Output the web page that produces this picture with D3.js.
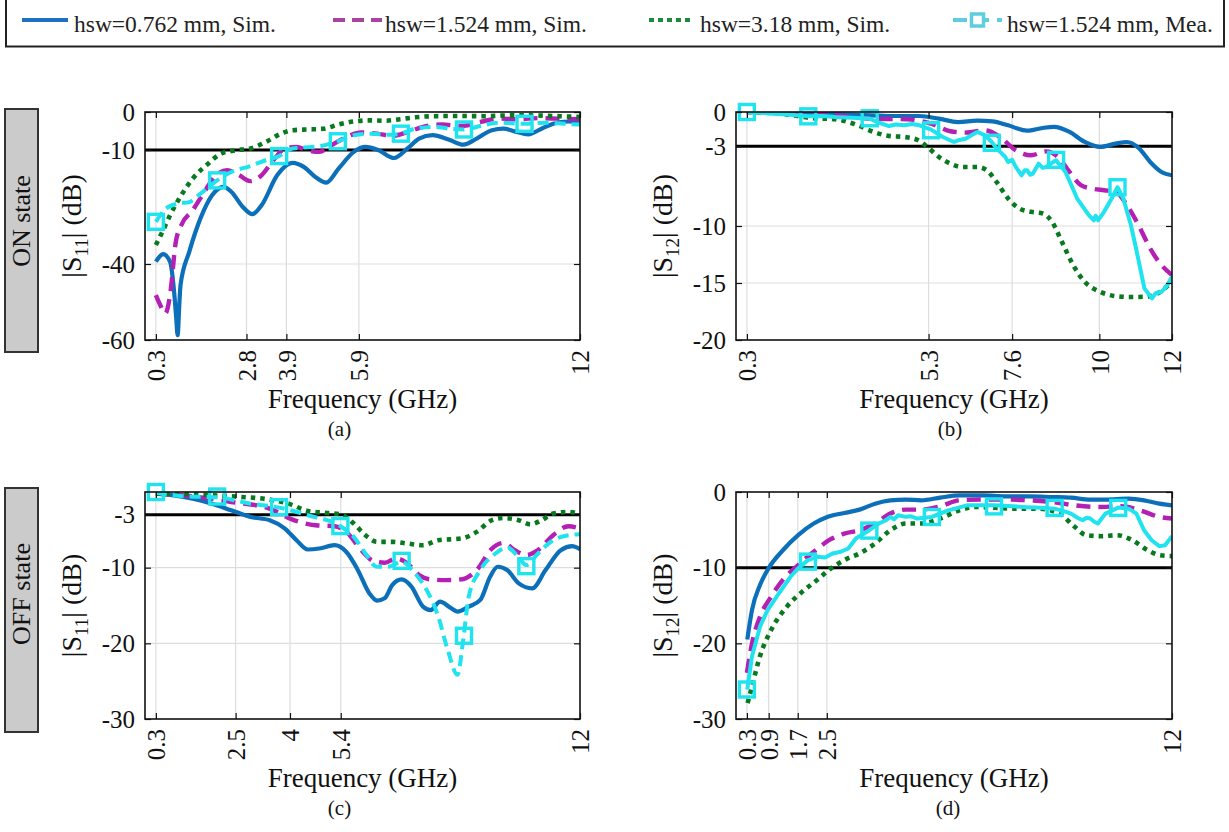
<!DOCTYPE html>
<html>
<head>
<meta charset="utf-8">
<script src="https://cdn.jsdelivr.net/npm/d3@7/dist/d3.min.js"></script>
<style>
  body { margin: 0; background: #ffffff; }
  svg, svg text { font-family: "Liberation Serif", "DejaVu Serif", serif; }
</style>
</head>
<body>
<div id="s_param_figure"></div>
<script>

// ! S-parameter data, [frequency GHz, magnitude dB]

// (a) ON state |S11|
var on_s11_sim_0762 = [[0.3,-39.4],[0.5,-37.4],[0.69,-39.4],[0.8,-47],[0.86,-54],[0.9,-58.7],[0.95,-50],[0.98,-45.5],[1.22,-36.8],[1.53,-28],[1.85,-21.9],[2.17,-19.7],[2.38,-21],[2.7,-25],[2.96,-26.9],[3.22,-24.5],[3.65,-16.6],[4.07,-13.4],[4.39,-14.5],[4.7,-17.1],[5.0,-18.6],[5.34,-14.9],[5.76,-10.5],[6.08,-9.2],[6.45,-10.1],[6.87,-12.1],[7.24,-9.6],[7.56,-7.0],[7.93,-6.1],[8.41,-7.4],[8.78,-8.6],[9.15,-7.0],[9.57,-4.8],[9.89,-4.4],[10.2,-5.1],[10.57,-5.9],[10.94,-4.4],[11.26,-3.1],[11.68,-2.5],[12,-2.6]];
var on_s11_sim_1524 = [[0.3,-48.2],[0.42,-50.8],[0.56,-53],[0.69,-48.2],[0.85,-34.2],[1.0,-29.8],[1.32,-25.8],[1.64,-21],[1.96,-16.6],[2.27,-15.3],[2.59,-16.6],[2.91,-18.2],[3.22,-16.6],[3.54,-12.7],[3.86,-9.6],[4.18,-9.2],[4.49,-10.1],[4.81,-10.5],[5.13,-8.8],[5.55,-6.6],[5.97,-5.4],[6.4,-5.7],[6.82,-6.3],[7.24,-5.3],[7.67,-3.9],[8.19,-3.3],[8.72,-3.7],[9.25,-2.6],[9.78,-1.75],[10.31,-1.9],[10.84,-1.6],[11.37,-1.75],[12,-1.9]];
var on_s11_sim_318 = [[0.3,-35],[0.48,-31.5],[0.69,-27.2],[1.0,-21.9],[1.32,-17.5],[1.74,-13.6],[2.11,-10.9],[2.48,-10.1],[2.91,-9.6],[3.33,-7.9],[3.75,-5.7],[4.07,-4.8],[4.49,-4.6],[4.92,-4.4],[5.34,-3.3],[5.76,-2.5],[6.19,-2.2],[6.61,-2.3],[7.03,-1.9],[7.45,-1.4],[7.98,-1.1],[8.72,-1.05],[9.36,-1.1],[9.99,-0.9],[10.63,-0.9],[11.26,-1.05],[12,-1.3]];
var on_s11_mea_1524 = [[0.3,-28.9],[0.58,-25.4],[0.9,-24.1],[1.22,-23.7],[1.53,-21.5],[1.99,-18],[2.38,-15.8],[2.91,-14.2],[3.33,-12.7],[3.7,-11.6],[4.07,-9.6],[4.6,-9.2],[5.02,-8.6],[5.32,-7.7],[5.76,-6.1],[6.29,-5.7],[6.71,-6.0],[7.06,-5.7],[7.45,-4.4],[7.98,-3.9],[8.41,-4.4],[8.8,-4.6],[9.25,-3.7],[9.78,-2.8],[10.47,-3.1],[11.05,-2.8],[11.58,-3.1],[12,-3.3]];
var on_s11_mea_marks = [[0.3,-28.9],[1.99,-18],[3.7,-11.6],[5.32,-7.7],[7.06,-5.7],[8.8,-4.6],[10.47,-3.1]];

// (b) ON state |S12|
var on_s12_sim_0762 = [[0.3,0],[1.56,-0.06],[3.15,-0.23],[4.2,-0.35],[5.05,-0.35],[5.58,-0.58],[6.11,-0.88],[6.64,-0.76],[7.06,-0.82],[7.49,-1.17],[8.01,-1.64],[8.44,-1.4],[8.75,-1.31],[9.18,-1.75],[9.6,-2.63],[10.02,-3.07],[10.45,-2.77],[10.76,-2.63],[11.08,-3.15],[11.4,-4.38],[11.71,-5.26],[12,-5.55]];
var on_s12_sim_1524 = [[0.3,0],[1.56,-0.06],[2.62,-0.23],[3.68,-0.58],[4.74,-0.64],[5.37,-1.02],[5.9,-1.69],[6.32,-1.81],[6.85,-1.61],[7.27,-2.19],[7.7,-3.36],[8.12,-3.8],[8.54,-3.45],[8.86,-3.94],[9.18,-5.26],[9.49,-6.42],[9.81,-6.72],[10.13,-6.86],[10.45,-7.0],[10.76,-8.18],[11.08,-9.93],[11.4,-11.97],[11.71,-13.43],[12,-14.3]];
var on_s12_sim_318 = [[0.3,0],[1.25,-0.15],[2.09,-0.53],[2.73,-0.64],[3.36,-1.17],[3.79,-1.75],[4.21,-2.1],[4.63,-2.19],[4.95,-2.39],[5.27,-3.07],[5.58,-3.94],[5.9,-4.53],[6.22,-4.82],[6.64,-4.82],[6.9,-5.11],[7.17,-6.13],[7.49,-7.59],[7.8,-8.47],[8.12,-8.76],[8.44,-8.9],[8.7,-9.64],[8.97,-11.39],[9.28,-13.43],[9.6,-14.9],[10.02,-15.77],[10.45,-16.15],[10.87,-16.23],[11.29,-16.2],[11.61,-15.9],[12,-14.9]];
var on_s12_mea_1524 = [[0.3,0],[1.04,-0.15],[1.5,-0.25],[2.0,-0.38],[2.4,-0.35],[2.73,-0.44],[3.2,-0.5],[3.68,-0.58],[3.9,-0.9],[4.21,-1.23],[4.4,-1.1],[4.63,-1.17],[4.85,-1.05],[5.05,-1.17],[5.37,-1.55],[5.69,-2.19],[6.0,-2.63],[6.15,-2.45],[6.32,-2.34],[6.5,-2.0],[6.64,-1.75],[6.85,-2.04],[7.04,-2.63],[7.15,-3.1],[7.27,-3.5],[7.4,-3.9],[7.49,-4.38],[7.6,-4.2],[7.7,-4.82],[7.86,-5.55],[7.95,-5.1],[8.01,-5.11],[8.1,-5.5],[8.17,-5.4],[8.33,-4.53],[8.44,-4.9],[8.54,-4.82],[8.81,-4.23],[9.07,-5.26],[9.39,-7.59],[9.71,-9.05],[9.85,-9.5],[9.9,-9.1],[9.97,-9.49],[10.13,-8.76],[10.34,-7.59],[10.5,-6.6],[10.66,-7.59],[10.87,-9.93],[11.03,-12.26],[11.24,-15.47],[11.45,-16.35],[11.55,-15.9],[11.71,-15.77],[11.85,-15.3],[12,-14.45]];
var on_s12_mea_marks = [[0.3,0],[1.99,-0.38],[3.68,-0.55],[5.37,-1.6],[7.04,-2.7],[8.81,-4.2],[10.5,-6.6]];

// (c) OFF state |S11|
var off_s11_sim_0762 = [[0.3,-0.22],[0.79,-0.44],[1.32,-0.88],[1.85,-1.54],[2.38,-2.42],[2.91,-3.29],[3.44,-3.73],[3.86,-4.83],[4.18,-6.37],[4.49,-7.6],[4.81,-7.47],[5.23,-7.03],[5.55,-7.9],[5.87,-10.3],[6.19,-13.4],[6.4,-14.36],[6.61,-14.05],[6.82,-12.3],[7.08,-11.55],[7.35,-12.5],[7.67,-15.15],[7.88,-15.6],[8.14,-14.5],[8.41,-15.24],[8.62,-15.8],[8.93,-15.15],[9.25,-14.27],[9.52,-11.2],[9.73,-9.88],[9.99,-10.32],[10.31,-12.08],[10.68,-12.74],[11.05,-10.32],[11.47,-7.69],[11.79,-7.16],[12,-7.55]];
var off_s11_sim_1524 = [[0.3,-0.22],[1.32,-0.57],[2.38,-1.32],[3.44,-2.2],[4.07,-3.65],[4.7,-4.39],[5.23,-4.52],[5.55,-5.27],[5.97,-7.69],[6.29,-9.09],[6.61,-9.35],[6.93,-8.78],[7.24,-9.44],[7.56,-10.98],[7.88,-11.55],[8.3,-11.64],[8.72,-11.55],[9.15,-10.32],[9.57,-7.47],[9.89,-6.72],[10.2,-7.69],[10.52,-8.34],[10.84,-7.69],[11.26,-5.71],[11.68,-4.52],[12,-4.83]];
var off_s11_sim_318 = [[0.3,-0.22],[1.32,-0.31],[2.38,-0.57],[3.44,-1.01],[3.96,-1.54],[4.49,-2.5],[5.02,-2.77],[5.39,-2.94],[5.76,-4.17],[6.08,-5.71],[6.4,-6.59],[6.82,-6.59],[7.24,-6.81],[7.67,-7.03],[8.09,-6.37],[8.72,-6.15],[9.15,-5.27],[9.57,-3.73],[9.89,-3.43],[10.31,-3.73],[10.63,-4.26],[10.94,-3.73],[11.26,-2.85],[11.68,-2.64],[12,-2.94]];
var off_s11_mea_1524 = [[0.3,-0.1],[1.11,-0.57],[1.99,-0.7],[2.91,-1.54],[3.7,-2.06],[4.49,-3.07],[5.39,-4.52],[5.76,-5.93],[6.08,-8.12],[6.4,-9.88],[6.71,-9.88],[7.08,-9.22],[7.45,-10.76],[7.77,-12.96],[8.09,-16.47],[8.35,-20.86],[8.62,-24.15],[8.78,-19.5],[8.93,-13.84],[9.25,-10.32],[9.67,-8.12],[9.99,-7.33],[10.26,-8.34],[10.52,-9.66],[10.84,-8.12],[11.26,-6.37],[11.68,-5.71],[12,-5.58]];
var off_s11_mea_marks = [[0.3,0],[1.99,-0.6],[3.7,-2.0],[5.39,-4.5],[7.08,-9.1],[8.8,-19.0],[10.52,-9.8]];

// (d) OFF state |S12|
var off_s12_sim_0762 = [[0.31,-19.5],[0.44,-15.6],[0.66,-12.3],[0.92,-9.9],[1.29,-7.7],[1.71,-5.7],[2.14,-4.17],[2.51,-3.3],[2.98,-2.77],[3.4,-2.33],[3.83,-1.54],[4.25,-1.1],[4.67,-1.0],[5.1,-1.1],[5.62,-0.75],[6.15,-0.44],[6.79,-0.44],[7.42,-0.57],[8.06,-0.57],[8.69,-0.66],[9.22,-0.75],[9.75,-1.0],[10.17,-1.0],[10.81,-0.88],[11.23,-1.1],[11.65,-1.54],[12,-1.76]];
var off_s12_sim_1524 = [[0.3,-23.9],[0.44,-20],[0.66,-16.5],[0.97,-13.8],[1.29,-11.6],[1.71,-9.66],[2.14,-7.9],[2.56,-6.37],[2.98,-5.49],[3.4,-5.05],[3.83,-4.17],[4.25,-2.85],[4.67,-2.33],[5.1,-2.33],[5.62,-1.89],[6.15,-1.1],[6.79,-1.0],[7.42,-1.0],[8.06,-1.1],[8.69,-1.32],[9.32,-1.76],[9.96,-1.98],[10.59,-1.89],[11.12,-2.42],[11.65,-3.29],[12,-3.51]];
var off_s12_sim_318 = [[0.32,-27.9],[0.44,-25.7],[0.66,-21.7],[0.97,-18.2],[1.4,-15.15],[1.82,-13.2],[2.24,-11.6],[2.56,-10.3],[2.98,-9.0],[3.4,-8.12],[3.83,-6.8],[4.25,-5.05],[4.67,-4.17],[5.1,-4.17],[5.62,-3.51],[6.15,-2.42],[6.58,-1.98],[7.0,-2.06],[7.63,-2.2],[8.27,-2.2],[8.9,-2.85],[9.32,-4.6],[9.64,-5.71],[10.07,-5.84],[10.49,-5.71],[10.91,-6.37],[11.33,-7.69],[11.65,-8.34],[12,-8.48]];
var off_s12_mea_1524 = [[0.31,-26.1],[0.44,-21.7],[0.66,-17.8],[0.87,-15.6],[1.18,-13.4],[1.5,-11.2],[1.71,-10.1],[1.98,-9.0],[2.24,-8.56],[2.45,-8.65],[2.66,-8.12],[2.88,-7.9],[3.09,-7.47],[3.3,-6.15],[3.67,-5.05],[3.93,-4.17],[4.1,-3.8],[4.25,-3.29],[4.35,-3.6],[4.46,-3.07],[4.67,-3.29],[4.8,-3.2],[4.99,-3.51],[5.39,-3.29],[5.84,-2.42],[6.36,-1.76],[7.1,-1.76],[7.63,-1.89],[8.0,-2.0],[8.27,-2.06],[8.77,-2.2],[9.0,-2.5],[9.22,-2.85],[9.4,-3.4],[9.54,-3.73],[9.65,-3.4],[9.75,-3.51],[9.85,-3.9],[9.96,-4.17],[10.17,-2.85],[10.52,-2.06],[10.81,-2.2],[11.02,-2.85],[11.23,-5.05],[11.44,-6.37],[11.65,-7.16],[11.81,-7.03],[12,-5.84]];
var off_s12_mea_marks = [[0.3,-26.1],[1.98,-9.2],[3.67,-5.1],[5.39,-3.3],[7.1,-1.9],[8.77,-2.1],[10.52,-2.1]];

// axis ticks for each panel
var ticks_a_x = [0.3, 2.8, 3.9, 5.9, 12], ticks_a_y = [0, -10, -40, -60];
var ticks_b_x = [0.3, 5.3, 7.6, 10, 12],  ticks_b_y = [0, -3, -10, -15, -20];
var ticks_c_x = [0.3, 2.5, 4, 5.4, 12],   ticks_c_y = [-3, -10, -20, -30];
var ticks_d_x = [0.3, 0.9, 1.7, 2.5, 12], ticks_d_y = [0, -10, -20, -30];

var legend_labels = ["hsw=0.762 mm, Sim.", "hsw=1.524 mm, Sim.", "hsw=3.18 mm, Sim.", "hsw=1.524 mm, Mea."];

var serif = "'Liberation Serif', 'DejaVu Serif', serif";

// line styles (plot colour, legend colour)
var styles = {
  sim_0762: { color: "#0b6fba", legend: "#1f70c0", width: 4.2, dash: null },
  sim_1524: { color: "#b41fb4", legend: "#a8439f", width: 4.4, dash: "14,8" },
  sim_318:  { color: "#08791f", legend: "#1b8a3a", width: 4.6, dash: "4.5,5" },
  mea_1524: { color: "#1fe3ee", legend: "#5fcde0", width: 4, dash: "11,6" }
};

var W = 1229, H = 832;

var svg = d3.select("#s_param_figure")
  .append("svg")
  .attr("width", W)
  .attr("height", H)
  .style("font-family", serif);

// legend strip across the top
var legend = svg.append("g");
legend.append("rect")
  .attr("x", 6).attr("y", -3)
  .attr("width", 1218).attr("height", 49.5)
  .attr("fill", "none")
  .attr("stroke", "#222")
  .attr("stroke-width", 2);

var legend_pos = [
  { x0: 22, x1: 68, tx: 74 },
  { x0: 333, x1: 382, tx: 385 },
  { x0: 649, x1: 694, tx: 700 },
  { x0: 953, x1: 1002, tx: 1007 }
];
var legend_keys = ["sim_0762", "sim_1524", "sim_318", "mea_1524"];

legend_keys.forEach(function(k, i) {
  var p = legend_pos[i], s = styles[k];
  legend.append("line")
    .attr("x1", p.x0).attr("x2", p.x1)
    .attr("y1", 20).attr("y2", 20)
    .attr("stroke", s.legend)
    .attr("stroke-width", 4.2)
    .attr("stroke-dasharray", k == "sim_318" ? "5,4" : (k == "sim_1524" ? "12,7" : (k == "mea_1524" ? "14,8" : null)));
  if (k == "mea_1524") {
    legend.append("rect")
      .attr("x", (p.x0 + p.x1) / 2 - 6).attr("y", 14)
      .attr("width", 12).attr("height", 12)
      .attr("fill", "#ffffff")
      .attr("stroke", s.legend)
      .attr("stroke-width", 3.5);
  }
  legend.append("text")
    .attr("x", p.tx).attr("y", 32)
    .style("font-family", serif)
    .style("font-size", "23.5px")
    .style("fill", "#222")
    .text(legend_labels[i]);
});

// state labels on the left
function stateBox(y0, y1, textY, label) {
  svg.append("rect")
    .attr("x", 5).attr("y", y0)
    .attr("width", 33).attr("height", y1 - y0)
    .attr("fill", "#cbcbcb")
    .attr("stroke", "#333")
    .attr("stroke-width", 2);
  svg.append("text")
    .attr("transform", "translate(21," + textY + ") rotate(-90)")
    .attr("dy", "0.35em")
    .attr("text-anchor", "middle")
    .style("font-family", serif)
    .style("font-size", "26px")
    .style("fill", "#111")
    .text(label);
}
stateBox(109, 352, 221, "ON state");
stateBox(488, 732, 594, "OFF state");

var clip_id = 0;

function drawPanel(cfg) {
  var x = d3.scaleLinear().domain([0, 12]).range([cfg.x0, cfg.x1]);
  var y = d3.scaleLinear().domain([cfg.ymin, 0]).range([cfg.y1, cfg.y0]);
  var g = svg.append("g");

  clip_id++;
  g.append("clipPath").attr("id", "clip" + clip_id)
    .append("rect")
    .attr("x", cfg.x0).attr("y", cfg.y0)
    .attr("width", cfg.x1 - cfg.x0).attr("height", cfg.y1 - cfg.y0);

  // grid
  g.selectAll(".gx")
    .data(cfg.xticks.filter(function(d) { return d > 0 && d < 12; }))
    .enter().append("line")
    .attr("x1", function(d) { return x(d); }).attr("x2", function(d) { return x(d); })
    .attr("y1", cfg.y0).attr("y2", cfg.y1)
    .attr("stroke", "#dddddd").attr("stroke-width", 1.2);
  g.selectAll(".gy")
    .data(cfg.yticks.filter(function(d) { return d > cfg.ymin && d < 0; }))
    .enter().append("line")
    .attr("x1", cfg.x0).attr("x2", cfg.x1)
    .attr("y1", function(d) { return y(d); }).attr("y2", function(d) { return y(d); })
    .attr("stroke", "#dddddd").attr("stroke-width", 1.2);

  // threshold line
  g.append("line")
    .attr("x1", cfg.x0).attr("x2", cfg.x1)
    .attr("y1", y(cfg.ref)).attr("y2", y(cfg.ref))
    .attr("stroke", "#000").attr("stroke-width", 3);

  var plot = g.append("g").attr("clip-path", "url(#clip" + clip_id + ")");

  cfg.series.forEach(function(s) {
    var st = styles[s.key];
    var line = d3.line()
      .x(function(d) { return x(d[0]); })
      .y(function(d) { return y(d[1]); })
      .curve(s.rough ? d3.curveLinear : d3.curveMonotoneX);
    plot.append("path")
      .datum(s.data)
      .attr("d", line)
      .attr("fill", "none")
      .attr("stroke", st.color)
      .attr("stroke-width", st.width)
      .attr("stroke-linejoin", "round")
      .attr("stroke-dasharray", s.rough ? null : st.dash);
    if (s.marks) {
      g.selectAll(".mk")
        .data(s.marks)
        .enter().append("rect")
        .attr("x", function(d) { return x(d[0]) - 7.5; })
        .attr("y", function(d) { return y(d[1]) - 7.5; })
        .attr("width", 15).attr("height", 15)
        .attr("fill", "none")
        .attr("stroke", st.color)
        .attr("stroke-width", 3.4);
    }
  });

  // box
  g.append("rect")
    .attr("x", cfg.x0).attr("y", cfg.y0)
    .attr("width", cfg.x1 - cfg.x0).attr("height", cfg.y1 - cfg.y0)
    .attr("fill", "none").attr("stroke", "#111").attr("stroke-width", 1.6);

  // axes, inward ticks
  var yAxis = g.append("g")
    .attr("transform", "translate(" + cfg.x0 + ",0)")
    .call(d3.axisLeft(y).tickValues(cfg.yticks).tickSize(-6).tickPadding(10)
      .tickFormat(function(d) { return String(d); }));
  yAxis.attr("font-family", null).attr("font-size", null);
  yAxis.select(".domain").remove();
  yAxis.selectAll("text").style("font-size", "25px").style("font-family", serif).style("fill", "#111");

  g.append("g")
    .attr("transform", "translate(" + cfg.x1 + ",0)")
    .call(d3.axisRight(y).tickValues(cfg.yticks).tickSize(-6).tickFormat(""))
    .select(".domain").remove();

  var xAxis = g.append("g")
    .attr("transform", "translate(0," + cfg.y1 + ")")
    .call(d3.axisBottom(x).tickValues(cfg.xticks).tickSize(-6)
      .tickFormat(function(d) { return String(d); }));
  xAxis.attr("font-family", null).attr("font-size", null);
  xAxis.select(".domain").remove();
  xAxis.selectAll("text")
    .attr("transform", "rotate(-90)")
    .attr("x", -10).attr("y", 0)
    .attr("dy", "0.35em")
    .style("text-anchor", "end")
    .style("font-size", "25px")
    .style("font-family", serif)
    .style("fill", "#111");

  g.append("g")
    .attr("transform", "translate(0," + cfg.y0 + ")")
    .call(d3.axisTop(x).tickValues(cfg.xticks).tickSize(-6).tickFormat(""))
    .select(".domain").remove();

  g.selectAll(".tick line").attr("stroke", "#111").attr("stroke-width", 1.2);

  // axis titles
  var cx = (cfg.x0 + cfg.x1) / 2, cy = (cfg.y0 + cfg.y1) / 2;
  g.append("text")
    .attr("x", cx).attr("y", cfg.y1 + 68)
    .attr("text-anchor", "middle")
    .style("font-family", serif)
    .style("font-size", "27px")
    .style("fill", "#111")
    .text("Frequency (GHz)");

  var yl = g.append("text")
    .attr("transform", "translate(" + (cfg.x0 - 64) + "," + cy + ") rotate(-90)")
    .attr("text-anchor", "middle")
    .style("font-family", serif)
    .style("font-size", "28px")
    .style("fill", "#111");
  yl.append("tspan").text("|S");
  yl.append("tspan").attr("dy", 7).style("font-size", "19px").text(cfg.sub);
  yl.append("tspan").attr("dy", -7).text("| (dB)");

  g.append("text")
    .attr("x", cx + cfg.capShift).attr("y", cfg.y1 + 96)
    .attr("text-anchor", "middle")
    .style("font-family", serif)
    .style("font-size", "21px")
    .style("fill", "#111")
    .text(cfg.caption);
}

drawPanel({
  x0: 145, x1: 580, y0: 112, y1: 340, ymin: -60, ref: -10,
  xticks: ticks_a_x, yticks: ticks_a_y, sub: "11", caption: "(a)", capShift: -23,
  series: [
    { key: "sim_0762", data: on_s11_sim_0762 },
    { key: "sim_1524", data: on_s11_sim_1524 },
    { key: "sim_318", data: on_s11_sim_318 },
    { key: "mea_1524", data: on_s11_mea_1524, marks: on_s11_mea_marks }
  ]
});

drawPanel({
  x0: 736, x1: 1172, y0: 112, y1: 340, ymin: -20, ref: -3,
  xticks: ticks_b_x, yticks: ticks_b_y, sub: "12", caption: "(b)", capShift: -4,
  series: [
    { key: "sim_0762", data: on_s12_sim_0762 },
    { key: "sim_1524", data: on_s12_sim_1524 },
    { key: "sim_318", data: on_s12_sim_318 },
    { key: "mea_1524", data: on_s12_mea_1524, marks: on_s12_mea_marks, rough: true }
  ]
});

drawPanel({
  x0: 145, x1: 580, y0: 492, y1: 719, ymin: -30, ref: -3,
  xticks: ticks_c_x, yticks: ticks_c_y, sub: "11", caption: "(c)", capShift: -23,
  series: [
    { key: "sim_0762", data: off_s11_sim_0762 },
    { key: "sim_1524", data: off_s11_sim_1524 },
    { key: "sim_318", data: off_s11_sim_318 },
    { key: "mea_1524", data: off_s11_mea_1524, marks: off_s11_mea_marks }
  ]
});

drawPanel({
  x0: 736, x1: 1172, y0: 492, y1: 719, ymin: -30, ref: -10,
  xticks: ticks_d_x, yticks: ticks_d_y, sub: "12", caption: "(d)", capShift: -6,
  series: [
    { key: "sim_0762", data: off_s12_sim_0762 },
    { key: "sim_1524", data: off_s12_sim_1524 },
    { key: "sim_318", data: off_s12_sim_318 },
    { key: "mea_1524", data: off_s12_mea_1524, marks: off_s12_mea_marks, rough: true }
  ]
});

</script>
</body>
</html>
